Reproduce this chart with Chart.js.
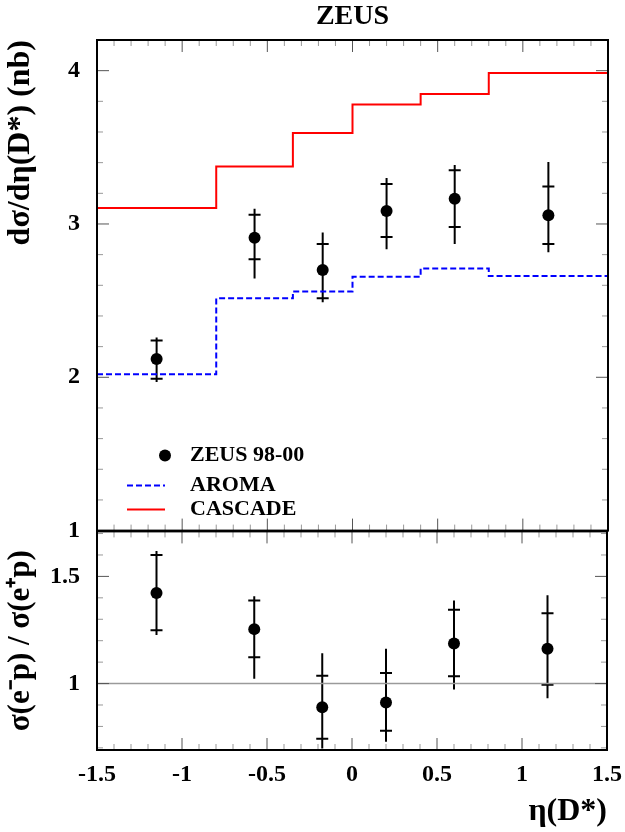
<!DOCTYPE html>
<html>
<head>
<meta charset="utf-8">
<script src="https://cdn.jsdelivr.net/npm/chart.js@4.4.1/dist/chart.umd.min.js"></script>
<style>
  html, body { margin: 0; padding: 0; background: #fff; }
  #wrap { position: relative; width: 625px; height: 832px; overflow: hidden; }
  #top { position: absolute; left: 0; top: 0; }
  #bot { position: absolute; left: 0; top: 500px; }
</style>
</head>
<body>
<div id="wrap">
  <canvas id="top" width="625" height="562"></canvas>
  <canvas id="bot" width="632" height="332"></canvas>
</div>
<script>
// ---- data ----
var BIN_EDGES = [-1.5, -0.8, -0.35, 0, 0.4, 0.8, 1.5];
var ETA = [-1.15, -0.575, -0.175, 0.2, 0.6, 1.15];

// d sigma / d eta (nb)
var XSEC         = [2.12, 2.91, 2.70, 3.085, 3.165, 3.057];
var XSEC_STAT_HI = [2.24, 3.06, 2.87, 3.26, 3.35, 3.245];
var XSEC_STAT_LO = [1.99, 2.77, 2.515, 2.915, 2.98, 2.87];
var XSEC_TOT_HI  = [2.26, 3.10, 2.945, 3.30, 3.385, 3.405];
var XSEC_TOT_LO  = [1.97, 2.645, 2.49, 2.835, 2.87, 2.815];

var AROMA   = [2.02, 2.515, 2.56, 2.655, 2.71, 2.66];
var CASCADE = [3.105, 3.375, 3.593, 3.78, 3.847, 3.985];

// sigma(e-p) / sigma(e+p)
var RATIO         = [1.423, 1.254, 0.889, 0.912, 1.187, 1.162];
var RATIO_STAT_HI = [1.60, 1.388, 1.037, 1.049, 1.344, 1.328];
var RATIO_STAT_LO = [1.249, 1.123, 0.743, 0.78, 1.034, 0.995];
var RATIO_TOT_HI  = [1.618, 1.407, 1.141, 1.162, 1.388, 1.412];
var RATIO_TOT_LO  = [1.227, 1.023, 0.697, 0.728, 0.972, 0.931];
var RATIO_REF = [1, 1];

var X_TICKS = [-1.5, -1, -0.5, 0, 0.5, 1, 1.5];
var TOP_Y_TICKS = [1, 2, 3, 4];
var BOT_Y_TICKS = [1, 1.5];

var SERIF = "'Liberation Serif', 'Times New Roman', serif";
var INK = "#000000";

function toPoints(xs, ys) {
  return xs.map(function (x, i) { return { x: x, y: ys[i] }; });
}
// step histogram: one point per bin edge, last value repeated at the upper edge
function toSteps(edges, vals) {
  return edges.map(function (x, i) { return { x: x, y: vals[Math.min(i, vals.length - 1)] }; });
}
function fixedTicks(list) {
  return function (scale) { scale.ticks = list.map(function (v) { return { value: v }; }); };
}

// frame + inward minor/major ticks on all four sides
var frameTicks = {
  id: "frameTicks",
  afterDraw: function (chart, args, opts) {
    var ctx = chart.ctx, a = chart.chartArea;
    var xs = chart.scales.x, ys = chart.scales.y;
    function marks(scale, minor, major, cb) {
      var k0 = Math.ceil(scale.min / minor - 1e-6), k1 = Math.floor(scale.max / minor + 1e-6);
      for (var k = k0; k <= k1; k++) {
        var v = k * minor;
        var isMajor = Math.abs(v / major - Math.round(v / major)) < 1e-6;
        cb(scale.getPixelForValue(v), isMajor);
      }
    }
    ctx.save();
    ctx.lineWidth = 1;
    marks(xs, 0.1, 0.5, function (px, big) {
      var len = big ? 12 : 6;
      ctx.strokeStyle = big ? "#555" : "#999";
      ctx.beginPath();
      ctx.moveTo(px, a.bottom); ctx.lineTo(px, a.bottom - len);
      ctx.moveTo(px, a.top); ctx.lineTo(px, a.top + len);
      ctx.stroke();
    });
    marks(ys, opts.yMinor, opts.yMajor, function (py, big) {
      var len = big ? 12 : 6;
      ctx.strokeStyle = big ? "#555" : "#999";
      ctx.beginPath();
      ctx.moveTo(a.left, py); ctx.lineTo(a.left + len, py);
      ctx.moveTo(a.right, py); ctx.lineTo(a.right - len, py);
      ctx.stroke();
    });
    ctx.strokeStyle = INK;
    ctx.lineWidth = 2;
    ctx.strokeRect(a.left, a.top, a.right - a.left, a.bottom - a.top);
    ctx.restore();
  }
};

// vertical error bars: full line = total, crossbars = statistical
var errorBars = {
  id: "errorBars",
  beforeDatasetsDraw: function (chart, args, opts) {
    var ctx = chart.ctx, xs = chart.scales.x, ys = chart.scales.y;
    ctx.save();
    ctx.strokeStyle = INK;
    ctx.lineWidth = 2;
    opts.x.forEach(function (xv, i) {
      var px = xs.getPixelForValue(xv);
      ctx.beginPath();
      ctx.moveTo(px, ys.getPixelForValue(opts.totHi[i]));
      ctx.lineTo(px, ys.getPixelForValue(opts.totLo[i]));
      [opts.statHi[i], opts.statLo[i]].forEach(function (v) {
        var py = ys.getPixelForValue(v);
        ctx.moveTo(px - 6, py); ctx.lineTo(px + 6, py);
      });
      ctx.stroke();
    });
    ctx.restore();
  }
};

// legend drawn inside the plot, lower left
var innerLegend = {
  id: "innerLegend",
  afterDraw: function (chart) {
    var ctx = chart.ctx, a = chart.chartArea;
    var ds = chart.data.datasets;
    var x0 = a.left + 30, x1 = a.left + 68, tx = a.left + 93;
    var rows = [a.bottom - 75, a.bottom - 45, a.bottom - 21];
    ctx.save();
    ctx.font = "bold 22px " + SERIF;
    ctx.textBaseline = "middle";
    ctx.fillStyle = INK;
    ds.forEach(function (d, i) {
      var y = rows[i];
      if (d.type === "scatter") {
        ctx.beginPath();
        ctx.arc((x0 + x1) / 2 + 19, y, 6, 0, Math.PI * 2);
        ctx.fill();
      } else {
        ctx.save();
        ctx.strokeStyle = d.borderColor;
        ctx.lineWidth = 2;
        ctx.setLineDash(d.borderDash || []);
        ctx.beginPath();
        ctx.moveTo(x0, y); ctx.lineTo(x1, y);
        ctx.stroke();
        ctx.restore();
      }
      ctx.fillText(d.label, tx, y);
    });
    ctx.restore();
  }
};

function yAxis(min, max, ticks, title, align, titleSize) {
  return {
    type: "linear", min: min, max: max,
    afterBuildTicks: fixedTicks(ticks),
    afterFit: function (s) { s.width = 97; },
    grid: { display: false, drawTicks: false },
    border: { display: false },
    ticks: { padding: 17, color: INK, font: { family: SERIF, size: 24, weight: "bold" },
             callback: function (v) { return String(v); } },
    title: { display: true, text: title, align: align, color: INK,
             font: { family: SERIF, size: titleSize, weight: "bold" }, padding: { top: 2, bottom: 0 } }
  };
}

var common = {
  responsive: false,
  animation: false,
  events: [],
  plugins: { legend: { display: false }, tooltip: { enabled: false } }
};

new Chart(document.getElementById("top"), {
  data: {
    datasets: [
      { type: "scatter", label: "ZEUS 98-00", data: toPoints(ETA, XSEC),
        pointRadius: 6, backgroundColor: INK, borderWidth: 0 },
      { type: "line", label: "AROMA", data: toSteps(BIN_EDGES, AROMA), stepped: true,
        borderColor: "#0000ff", borderDash: [6, 3], borderWidth: 2, pointRadius: 0, fill: false },
      { type: "line", label: "CASCADE", data: toSteps(BIN_EDGES, CASCADE), stepped: true,
        borderColor: "#ff0000", borderWidth: 2, pointRadius: 0, fill: false }
    ]
  },
  options: Object.assign({}, common, {
    layout: { padding: { left: 0, right: 17, top: 0, bottom: 15 } },
    scales: {
      x: { type: "linear", min: -1.5, max: 1.5, display: false },
      y: yAxis(1, 4.2, TOP_Y_TICKS, "dσ/dη(D*) (nb)", "end", 32)
    },
    plugins: {
      legend: { display: false }, tooltip: { enabled: false },
      title: { display: true, text: "ZEUS", fullSize: false, color: INK,
               font: { family: SERIF, size: 28, weight: "bold" }, padding: { top: 0, bottom: 6.4 } },
      frameTicks: { yMinor: 0.2, yMajor: 1 },
      errorBars: { x: ETA, statHi: XSEC_STAT_HI, statLo: XSEC_STAT_LO, totHi: XSEC_TOT_HI, totLo: XSEC_TOT_LO }
    }
  }),
  plugins: [frameTicks, errorBars, innerLegend]
});

new Chart(document.getElementById("bot"), {
  data: {
    datasets: [
      { type: "line", label: "ref", data: toPoints([-1.5, 1.5], RATIO_REF),
        borderColor: "#9a9a9a", borderWidth: 1.5, pointRadius: 0, fill: false },
      { type: "scatter", label: "ZEUS 98-00", data: toPoints(ETA, RATIO),
        pointRadius: 6, backgroundColor: INK, borderWidth: 0 }
    ]
  },
  options: Object.assign({}, common, {
    layout: { padding: { left: 0, right: 17, top: 30, bottom: 0 } },
    scales: {
      x: {
        type: "linear", min: -1.5, max: 1.5,
        afterBuildTicks: fixedTicks(X_TICKS),
        afterFit: function (s) { s.height = 82; },
        grid: { display: false, drawTicks: false },
        border: { display: false },
        ticks: { padding: 10, color: INK, maxRotation: 0, autoSkip: false,
                 font: { family: SERIF, size: 24, weight: "bold" },
                 callback: function (v) { return String(v); } },
        title: { display: true, text: "η(D*)", align: "end", color: INK,
                 font: { family: SERIF, size: 32, weight: "bold" }, padding: { top: 0, bottom: 1 } }
      },
      y: yAxis(0.69, 1.71, BOT_Y_TICKS, "σ(e⁻p) / σ(e⁺p)", "center", 31)
    },
    plugins: {
      legend: { display: false }, tooltip: { enabled: false },
      frameTicks: { yMinor: 0.1, yMajor: 0.5 },
      errorBars: { x: ETA, statHi: RATIO_STAT_HI, statLo: RATIO_STAT_LO, totHi: RATIO_TOT_HI, totLo: RATIO_TOT_LO }
    }
  }),
  plugins: [frameTicks, errorBars]
});
</script>
</body>
</html>
